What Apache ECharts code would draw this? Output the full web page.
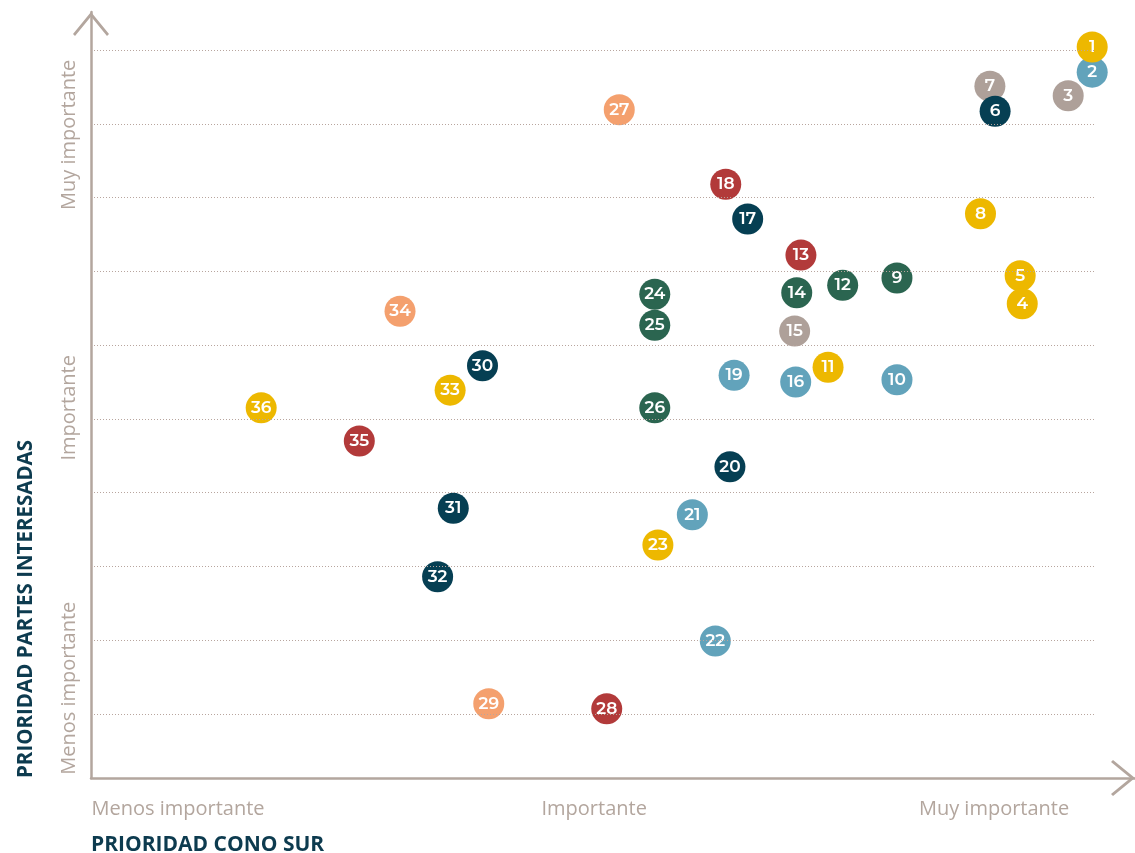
<!DOCTYPE html>
<html lang="es">
<head>
    <meta charset="utf-8">
    <title>Prioridad</title>
    <script src="https://cdn.jsdelivr.net/npm/echarts@6/dist/echarts.min.js"></script>
    <style>
        html, body { margin: 0; padding: 0; background: #fff; }
        #main { width: 1135px; height: 853px; }
    </style>
</head>
<body>
<div id="main"></div>
<script>
    // numero de cada tema
    var ids    = [1, 2, 3, 4, 5, 6, 7, 8, 9, 10, 11, 12, 13, 14, 15, 16, 17, 18,
                  19, 20, 21, 22, 23, 24, 25, 26, 27, 28, 29, 30, 31, 32, 33, 34, 35, 36];
    // prioridad cono sur (eje x, 0-100)
    var cono   = [95.9, 95.9, 93.6, 89.2, 89.0, 86.6, 86.1, 85.2, 77.2, 77.2, 70.6, 72.0, 68.0, 67.6, 67.4, 67.5, 62.9, 60.8,
                  61.6, 61.2, 57.6, 59.8, 54.3, 54.0, 54.0, 54.0, 50.6, 49.4, 38.1, 37.5, 34.7, 33.2, 34.4, 29.6, 25.7, 16.3];
    // prioridad partes interesadas (eje y, lineas guia en 1..10)
    var partes = [10.04, 9.70, 9.38, 6.56, 6.94, 9.17, 9.51, 7.78, 6.91, 5.53, 5.70, 6.81, 7.22, 6.71, 6.19, 5.50, 7.71, 8.18,
                  5.59, 4.35, 3.70, 1.99, 3.29, 6.69, 6.27, 5.15, 9.19, 1.07, 1.14, 5.72, 3.79, 2.86, 5.39, 6.46, 4.70, 5.15];
    // grupo de color de cada tema
    var grupo  = ['am', 'az', 'gr', 'am', 'am', 'ma', 'gr', 'am', 've', 'az', 'am', 've', 'ro', 've', 'gr', 'az', 'ma', 'ro',
                  'az', 'ma', 'az', 'az', 'am', 've', 've', 've', 'sa', 'ro', 'sa', 'ma', 'ma', 'ma', 'am', 'sa', 'ro', 'am'];

    var grupos  = ['gr', 'sa', 'ro', 've', 'ma', 'az', 'am'];
    var colores = { am: '#EDB800', az: '#62A3BB', gr: '#AEA099', ma: '#063F53', ve: '#2B6550', ro: '#B23A3A', sa: '#F4A06E' };

    var lineasGuia = [1, 2, 3, 4, 5, 6, 7, 8, 9, 10];
    var finGuia = 96.2;

    var etiquetasX = ['Menos importante', 'Importante', 'Muy importante'];
    var posX = [8.33, 48.2, 86.5];
    var etiquetasY = ['Menos importante', 'Importante', 'Muy importante'];
    var posY = [1.35, 5.15, 8.85];

    var gris = '#B3A69E';
    var arrow = 'path://M18 0 L36 22 L34 24 L18 4.5 L2 24 L0 22 Z';

    var series = [];
    grupos.forEach(function (g) {
        var data = [];
        for (var i = ids.length - 1; i >= 0; i--) {
            if (grupo[i] === g) data.push({ value: [cono[i], partes[i]], name: String(ids[i]) });
        }
        series.push({
            type: 'scatter',
            symbolSize: 31,
            clip: false,
            z: 3,
            itemStyle: { color: colores[g], opacity: 1 },
            label: {
                show: true,
                position: 'inside',
                formatter: '{b}',
                color: '#fff',
                fontFamily: 'Montserrat, "Open Sans", sans-serif',
                fontWeight: 600,
                fontSize: 17
            },
            data: data
        });
    });

    // lineas guia punteadas
    series.push({
        type: 'line',
        data: [],
        z: 5,
        silent: true,
        markLine: {
            silent: true,
            symbol: 'none',
            label: { show: false },
            lineStyle: { color: '#B8A59E', type: [1, 2], width: 1 },
            data: lineasGuia.map(function (v) {
                return [{ coord: [0, v] }, { coord: [finGuia, v] }];
            })
        }
    });

    var myChart = echarts.init(document.getElementById('main'));
    var option = {
        animation: false,
        grid: { left: 91, right: 0, top: 12, bottom: 75 },
        xAxis: {
            type: 'value',
            min: 0,
            max: 100,
            splitLine: { show: false },
            axisTick: { show: false },
            axisLine: {
                show: true,
                symbol: ['none', arrow],
                symbolSize: [36, 24],
                symbolOffset: [0, -12],
                lineStyle: { color: gris, width: 2.5 }
            },
            axisLabel: {
                customValues: posX,
                formatter: function (v) {
                    return etiquetasX[posX.indexOf(v)] || '';
                },
                margin: 21,
                color: gris,
                fontFamily: '"Open Sans", sans-serif',
                fontSize: 20
            }
        },
        yAxis: {
            type: 'value',
            min: 0.133,
            max: 10.515,
            splitLine: { show: false },
            axisTick: { show: false },
            axisLine: {
                show: true,
                symbol: ['none', arrow],
                symbolSize: [36, 24],
                symbolOffset: [0, -12],
                lineStyle: { color: gris, width: 2.5 }
            },
            axisLabel: {
                customValues: posY,
                rotate: 90,
                formatter: function (v) {
                    return etiquetasY[posY.indexOf(v)] || '';
                },
                margin: 12,
                color: gris,
                fontFamily: '"Open Sans", sans-serif',
                fontSize: 20
            }
        },
        graphic: [
            {
                type: 'text',
                x: 91,
                y: 845,
                style: {
                    text: 'PRIORIDAD CONO SUR',
                    fill: '#0D3B4F',
                    font: 'bold 21px "Open Sans", sans-serif',
                    verticalAlign: 'middle'
                }
            },
            {
                type: 'text',
                x: 26,
                y: 778,
                rotation: Math.PI / 2,
                style: {
                    text: 'PRIORIDAD PARTES INTERESADAS',
                    fill: '#0D3B4F',
                    font: 'bold 20.5px "Open Sans", sans-serif',
                    align: 'left',
                    verticalAlign: 'middle'
                }
            }
        ],
        series: series
    };
    myChart.setOption(option);
</script>
</body>
</html>
